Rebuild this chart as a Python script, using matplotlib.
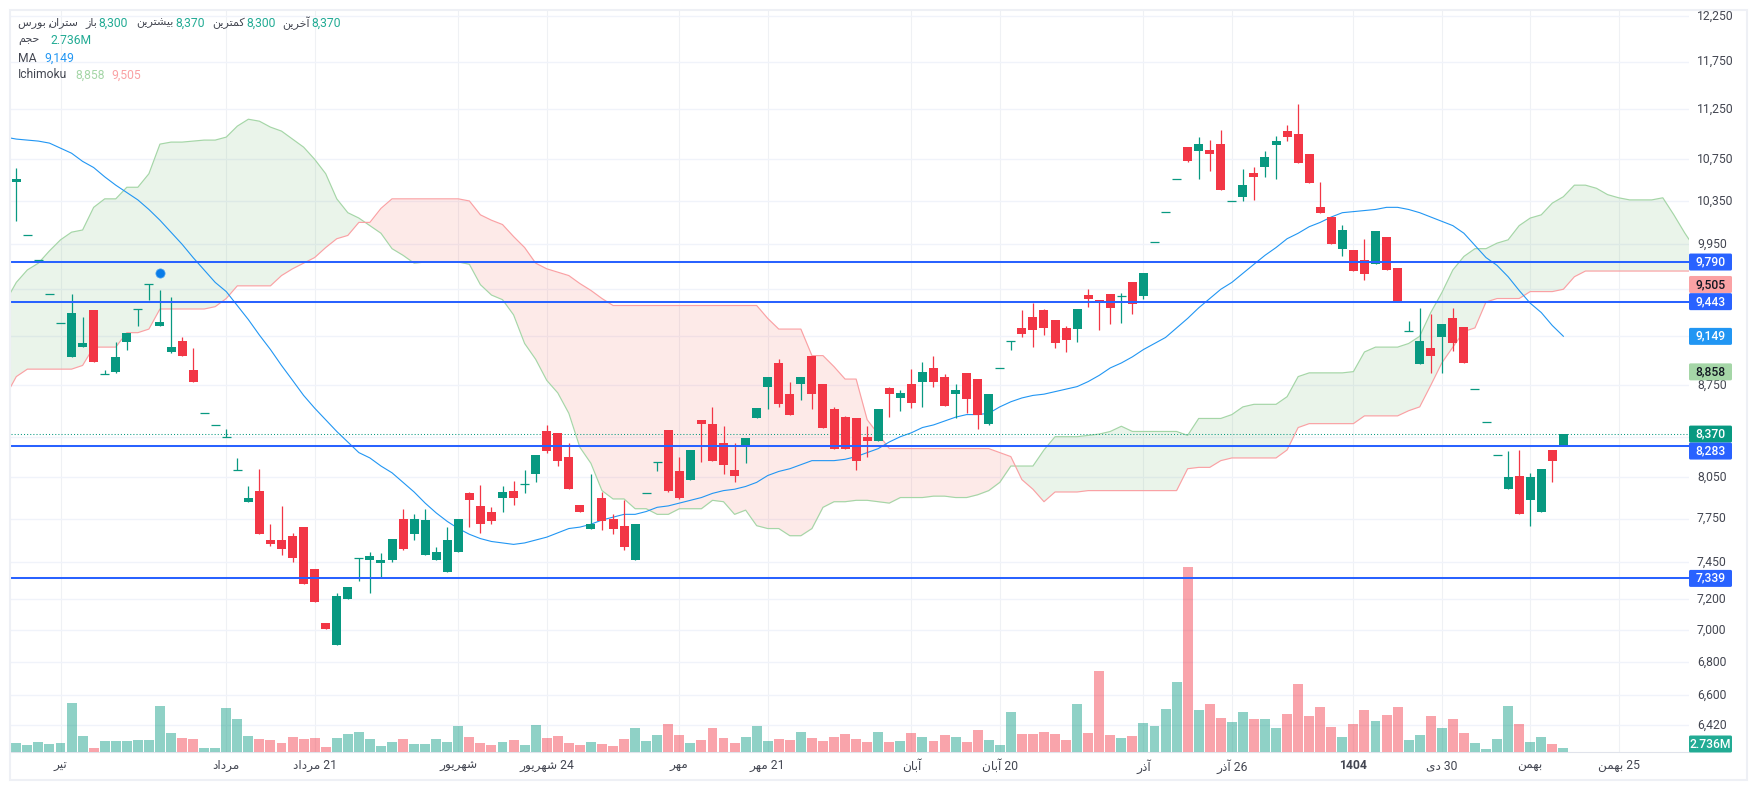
import numpy as np
import matplotlib
matplotlib.use('Agg')
from matplotlib import pyplot as plt
from matplotlib.patches import FancyBboxPatch, Rectangle
from matplotlib.ticker import NullLocator, NullFormatter
from matplotlib.transforms import IdentityTransform

plt.rcParams['font.family'] = ['Roboto', 'DejaVu Sans']

W, H = 1757, 790

# Candles, prices in tens
open_t = [1053,1003,981,951,926,898,906,937,884,886, 910,938,960,924,902,911,887,853,844,835, 810,787,795,760,760,763,769,740,705,691,
          720,748,746,744,746,775,764,750,746,738, 752,793,784,780,790,795,800,807,839,838, 820,785,768,790,775,770,746,793,816,840,
          809,803,848,845,830,810,829,849,874,893, 868,876,899,876,856,850,849,835,832,873, 865,876,878,889,882,868,885,880,845,889,
          911,922,931,937,929,922,921,950,946,951, 949,961,949,997,1025,1056,1087,1083,1084,1090, 1035,1039,1062,1068,1089,1103,1100,1080,1029,1020,
          991,990,981,977,1002,974,919,892,905,914, 930,923,872,846,821,796,806,788,780,825, 829]
high_t = [1067,1003,981,951,926,951,931,937,887,910, 918,938,960,954,948,914,905,853,844,841, 819,798,811,771,784,765,769,740,705,724,
          728,748,752,751,761,782,778,782,755,769, 775,794,799,783,798,802,810,821,844,838, 830,785,807,794,778,788,771,793,816,840,
          820,825,848,858,843,830,834,857,882,896, 878,882,899,876,858,851,849,843,856,874, 871,888,894,899,884,876,885,880,868,889,
          911,937,943,938,929,924,938,955,946,951, 952,961,969,997,1025,1056,1087,1097,1094,1104, 1035,1066,1068,1083,1098,1109,1131,1080,1053,1020,
          1013,990,1000,1007,1002,974,928,939,934,925, 939,923,872,846,821,824,825,808,811,825, 837]
low_t = [1016,1003,981,951,926,898,906,894,884,885, 904,924,946,924,901,899,878,853,844,835, 810,787,764,756,750,745,730,718,701,691,
         720,732,724,734,745,753,760,750,746,738, 752,769,765,771,780,785,793,801,823,813, 796,780,768,767,764,753,746,793,809,794,
         789,803,816,817,807,801,815,849,856,858, 852,863,856,842,826,826,810,820,832,850, 855,857,858,874,859,849,853,841,844,889,
         904,914,906,916,905,902,910,940,920,925, 926,934,947,997,1025,1056,1072,1056,1064,1045, 1035,1035,1036,1058,1056,1093,1071,1052,1024,995,
         984,971,963,977,972,945,919,892,885,885, 903,893,872,846,821,796,778,770,780,801, 829]
close_t = [1056,1003,981,951,926,935,909,894,884,898, 918,938,960,927,906,899,878,853,844,835, 810,790,764,757,754,748,730,718,701,722,
           728,748,749,746,761,754,775,774,752,760, 775,788,771,773,794,790,800,821,824,817, 796,780,771,773,768,755,771,793,816,795,
           790,825,845,817,814,806,834,857,882,860, 852,882,868,842,826,826,817,832,856,868, 869,861,886,878,859,871,864,852,868,889,
           911,917,920,922,909,912,938,947,943,939, 949,942,969,997,1025,1056,1073,1090,1080,1045, 1035,1050,1058,1077,1093,1097,1071,1052,1024,995,
           1008,971,968,1007,972,945,919,911,899,925, 909,893,872,846,821,805,778,805,811,817, 837]

# Volume, millions
volume = [5.9,4.6,6.5,5.3,5.9,31.1,10.3,2.7,7.2,7.2,7.2,7.8,7.8,29.3,12.2,9.0,8.4,2.7,2.7,28.0,21.0,10.3,8.4,7.8,5.9,9.7,8.4,9.0,3.4,9.0,
          11.6,12.8,8.4,4.0,6.5,8.4,5.3,5.3,8.4,6.5,16.6,9.7,5.9,4.6,6.5,7.8,4.6,17.3,9.0,10.3,5.9,4.6,6.5,5.3,4.0,8.4,15.4,7.2,10.9,17.9,
          10.9,5.9,7.8,15.4,9.0,5.9,9.7,16.6,7.2,8.4,7.8,12.8,9.0,7.2,9.7,11.6,8.4,6.5,12.8,6.5,7.2,12.2,9.7,7.2,10.9,9.7,6.5,14.1,7.8,4.6,
          25.5,11.6,11.6,12.8,11.6,7.8,30.5,12.2,51.4,10.9,9.0,10.3,18.5,16.6,27.4,44.4,117.0,26.7,30.5,21.7,19.2,25.5,21.0,21.0,15.4,24.2,43.1,22.9,28.6,16.0,
          9.7,17.9,26.7,19.8,23.6,28.6,7.8,10.9,22.9,15.4,21.0,12.2,5.9,2.1,8.4,29.3,17.9,6.5,9.7,5.3,2.736]

# Ichimoku spans and MA, prices in tens, first value belongs to bar -1
span_a = [944,961,972,978,989,999,1006,1008,1029,1037, 1037,1048,1048,1061,1090,1092,1092,1093,1094,1094, 1097,1108,1115,1113,1107,1103,1095,1087,1075,1061,
          1037,1024,1019,1012,1005,991,985,978,979,979, 979,979,977,959,950,946,933,909,896,879, 869,853,827,815,795,789,789,782,782,778,
          778,782,782,782,788,787,778,781,770,768, 768,763,763,768,783,787,787,788,788,787, 786,790,790,790,791,791,790,790,792,795,
          801,813,813,813,825,835,835,835,836,837, 839,843,839,839,839,839,839,836,849,849, 849,852,858,860,860,860,866,882,885,885,
          885,885,886,902,906,906,906,909,915,935, 952,972,984,991,991,996,999,1012,1019,1022, 1033,1039,1050,1050,1047,1041,1038,1036,1036,1036,
          1038,1022,1005,990]
span_b = [866,882,888,888,888,888,888,891,906,906, 906,918,918,921,938,938,938,938,938,940, 947,958,958,958,958,967,973,978,983,992,
          1000,1003,1015,1015,1028,1037,1037,1037,1037,1037, 1037,1037,1035,1022,1017,1013,1002,992,978,973, 970,967,960,954,947,941,941,941,941,941,
          941,941,941,941,941,941,941,941,941,930, 921,921,921,899,899,890,880,880,848,837, 826,826,826,826,826,826,826,826,826,826,
          823,820,803,796,787,794,794,794,795,795, 795,795,795,795,795,795,795,811,812,812, 817,819,819,819,819,819,825,842,845,845,
          845,845,845,851,851,851,851,855,858,875, 893,906,919,922,944,947,947,947,953,953, 953,955,966,971,971,971,971,971,971,971,
          971,971,971,971]
ma_line = [1097,1095,1094,1093,1091,1086,1081,1073,1067,1058, 1050,1043,1036,1027,1017,1006,995,983,972,961, 953,941,929,916,904,891,879,867,857,848,
           839,831,823,819,813,808,801,794,786,779, 773,768,764,761,759,758,757,758,760,762, 765,768,769,771,774,776,778,778,780,783,
           784,786,788,790,793,795,796,798,801,806, 809,811,814,817,817,817,818,820,823,826, 831,835,838,842,844,847,850,852,852,853,
           858,862,865,867,868,870,872,874,878,883, 889,893,898,904,909,914,922,930,939,947, 955,961,969,977,985,992,1000,1005,1011,1015,
           1020,1024,1025,1026,1027,1029,1029,1027,1024,1020, 1016,1012,1005,994,983,976,966,954,943,935, 924,915]

levels = [9790, 9443, 8283, 7339]
last_price = 8370
event_bar = [13]
event_price = [9690]

price_ticks = [12250,11750,11250,10750,10350,9950,9550,9150,8750,8350,8050,7750,7450,7200,7000,6800,6600,6420]
hidden_ticks = [9550, 9150, 8350]
time_ticks = [4,19,27,40,48,60,68,81,89,102,110,121,129,137,145]
time_labels = ['تیر','مرداد','21 مرداد','شهریور','24 شهریور','مهر','21 مهر','آبان','20 آبان','آذر','26 آذر','1404','30 دی','بهمن','25 بهمن']

GREEN = '#089981'
RED = '#F23645'
BLUE = '#2962FF'
MA_COL = '#2196F3'
SPAN_A = '#A5D6A7'
SPAN_B = '#FAA1A4'
TEXT = '#434651'
VAL = '#22AB94'

# matplotlib has no arabic shaping: isolated, final, initial, medial forms
FORMS = {
    'ا': (0xFE8D, 0xFE8E), 'آ': (0xFE81, 0xFE82), 'د': (0xFEA9, 0xFEAA), 'ذ': (0xFEAB, 0xFEAC),
    'ر': (0xFEAD, 0xFEAE), 'ز': (0xFEAF, 0xFEB0), 'و': (0xFEED, 0xFEEE),
    'ب': (0xFE8F, 0xFE90, 0xFE91, 0xFE92), 'ت': (0xFE95, 0xFE96, 0xFE97, 0xFE98),
    'ج': (0xFE9D, 0xFE9E, 0xFE9F, 0xFEA0), 'ح': (0xFEA1, 0xFEA2, 0xFEA3, 0xFEA4),
    'خ': (0xFEA5, 0xFEA6, 0xFEA7, 0xFEA8), 'س': (0xFEB1, 0xFEB2, 0xFEB3, 0xFEB4),
    'ش': (0xFEB5, 0xFEB6, 0xFEB7, 0xFEB8), 'ک': (0xFB8E, 0xFB8F, 0xFB90, 0xFB91),
    'م': (0xFEE1, 0xFEE2, 0xFEE3, 0xFEE4), 'ن': (0xFEE5, 0xFEE6, 0xFEE7, 0xFEE8),
    'ه': (0xFEE9, 0xFEEA, 0xFEEB, 0xFEEC), 'ی': (0xFBFC, 0xFBFD, 0xFBFE, 0xFBFF),
}

def shape_word(word):
    if word[0] not in FORMS:
        return word
    out = []
    for i, ch in enumerate(word):
        forms = FORMS[ch]
        before = i > 0 and len(FORMS[word[i-1]]) == 4
        after = i < len(word) - 1 and len(forms) == 4
        if before and after:
            out.append(chr(forms[3]))
        elif before:
            out.append(chr(forms[1]))
        elif after:
            out.append(chr(forms[2]))
        else:
            out.append(chr(forms[0]))
    return ''.join(reversed(out))

def fa(text):
    return ' '.join(shape_word(w) for w in reversed(text.split(' ')))

# Bars
n = len(open_t)
bars = np.arange(n)
op = np.array(open_t) * 10.0
hi = np.array(high_t) * 10.0
lo = np.array(low_t) * 10.0
cl = np.array(close_t) * 10.0
up = cl >= op
cols = [GREEN if u else RED for u in up]

fig = plt.figure(figsize=(W / 100, H / 100), dpi=100, facecolor='white')
left, right, top, bottom = 10.5, 1689.0, 11.0, 752.3
ax = fig.add_axes([left / W, 1 - bottom / H, (right - left) / W, (bottom - top) / H])
ax_v = ax.twinx()
ax_p = ax.twinx()

x_lim = (-0.525, 151.37)
y_lim = (6264, 12305)
ax.set_xlim(x_lim)
for a_ in (ax, ax_p):
    a_.set_yscale('log')
    a_.set_ylim(y_lim)
ax_v.set_ylim(0, 468)

# Grid and axis labels
ax.set_yticks(price_ticks)
ax.set_yticklabels(['' if t in hidden_ticks else f'{t:,}' for t in price_ticks], va='center')
ax.yaxis.set_minor_locator(NullLocator())
ax.yaxis.set_minor_formatter(NullFormatter())
ax.yaxis.tick_right()
ax.set_xticks(time_ticks)
ax.set_xticklabels([fa(t) for t in time_labels])
ax.tick_params(axis='y', length=0, pad=5.8, labelsize=8.7, labelcolor=TEXT)
ax.tick_params(axis='x', length=0, pad=5, labelsize=8.7, labelcolor=TEXT)
for lab, t in zip(ax.get_xticklabels(), time_labels):
    if t == '1404':
        lab.set_fontweight('bold')
ax.grid(True, axis='y', color='#F0F3FA', lw=1.0)
ax.grid(True, axis='x', color='#EFF1F4', lw=0.8)
ax.set_axisbelow(True)
for name, sp in ax.spines.items():
    sp.set_visible(name == 'bottom')
ax.spines['bottom'].set_color('#E0E3EB')
ax.spines['bottom'].set_linewidth(0.8)
ax_v.axis('off')
ax_p.axis('off')

# Volume
ax_v.bar(bars, volume, width=0.9, color=cols, alpha=0.45, linewidth=0)

# Ichimoku cloud
x_span = np.arange(-1, len(span_a) - 1)
a_vals = np.array(span_a) * 10.0
b_vals = np.array(span_b) * 10.0
ax_p.fill_between(x_span, a_vals, b_vals, where=a_vals >= b_vals, interpolate=True, color='#43A047', alpha=0.11, linewidth=0, zorder=1)
ax_p.fill_between(x_span, a_vals, b_vals, where=a_vals <= b_vals, interpolate=True, color='#F44336', alpha=0.11, linewidth=0, zorder=1)
ax_p.plot(x_span, a_vals, color=SPAN_A, lw=0.85, zorder=2)
ax_p.plot(x_span, b_vals, color=SPAN_B, lw=0.85, zorder=2)

# MA
ax_p.plot(np.arange(-1, len(ma_line) - 1), np.array(ma_line) * 10.0, color=MA_COL, lw=0.8, zorder=3)

# Last price and the drawn levels
ax_p.axhline(last_price, color=GREEN, lw=0.75, ls=(0, (1, 2)), zorder=3)

# Candles
body_w = 0.815
ax_p.vlines(bars, lo, hi, colors=cols, lw=0.9, zorder=4)
has_body = op != cl
ax_p.bar(bars[has_body], np.abs(cl - op)[has_body], bottom=np.minimum(op, cl)[has_body], width=body_w,
         color=[c for c, b in zip(cols, has_body) if b], linewidth=0, zorder=5)
ax_p.hlines(cl[~has_body], bars[~has_body] - body_w / 2, bars[~has_body] + body_w / 2, colors=GREEN, lw=0.9, zorder=5)

for level in levels:
    ax_p.axhline(level, color=BLUE, lw=1.45, zorder=6)

ax_p.scatter(event_bar, event_price, s=44, color='#0A7CE8', edgecolors='#4DA3F0', linewidths=0.5, zorder=7)

# Labels on the price scale: value, text, background, text colour, shift in pixels
scale_labels = [
    (9790, '9,790', BLUE, 'white', 0),
    (9505, '9,505', '#FAA1A4', '#131722', 10),
    (9443, '9,443', BLUE, 'white', 0),
    (9149, '9,149', MA_COL, 'white', 0),
    (8858, '8,858', '#A5D6A7', '#131722', 0),
    (8370, '8,370', GREEN, 'white', 0),
    (8283, '8,283', BLUE, 'white', -5.5),
    (7339, '7,339', BLUE, 'white', 0),
]

def scale_box(y, text, bg, fg):
    fig.add_artist(FancyBboxPatch((1689, y - 8.5), 43, 17, boxstyle='round,pad=0,rounding_size=1.5',
                                  transform=IdentityTransform(), facecolor=bg, edgecolor='none'))
    fig.text(1710.5, y, text, transform=IdentityTransform(), ha='center', va='center',
             color=fg, fontsize=8.7, fontweight='medium', zorder=4)

for value, text, bg, fg, shift in scale_labels:
    scale_box(ax.transData.transform((0, value))[1] + shift, text, bg, fg)
scale_box(H - 744, '2.736M', '#22AB94', 'white')

# Legend rows
def legend(x, y, text, color, ha='left', size=8.7):
    fig.text(x / W, 1 - y / H, text, color=color, fontsize=size, ha=ha, va='center')

legend(18, 23, fa('بورس') + ' ,', TEXT, size=8)
legend(78, 23, fa('ستران'), TEXT, 'right', size=8)
legend(97, 23, fa('باز'), TEXT, 'right', size=8)
legend(98, 23, '8,300', VAL)
legend(174, 23, fa('بیشترین'), TEXT, 'right', size=8)
legend(175, 23, '8,370', VAL)
legend(245, 23, fa('کمترین'), TEXT, 'right', size=8)
legend(246, 23, '8,300', VAL)
legend(310, 23, fa('آخرین'), TEXT, 'right', size=8)
legend(311, 23, '8,370', VAL)
legend(18, 41, fa('حجم'), TEXT, size=8)
legend(50, 41, '2.736M', VAL)
legend(18, 58, 'MA', TEXT)
legend(44, 58, '9,149', MA_COL)
legend(18, 75, 'Ichimoku', TEXT)
legend(75, 75, '8,858', '#A5D6A7')
legend(111, 75, '9,505', '#FAA1A4')

# Outer frame
fig.add_artist(Rectangle((10, 10), 1737, 770, transform=IdentityTransform(), fill=False, edgecolor='#EEF0F5', linewidth=1.5))

fig.savefig('out.png', dpi=100)
